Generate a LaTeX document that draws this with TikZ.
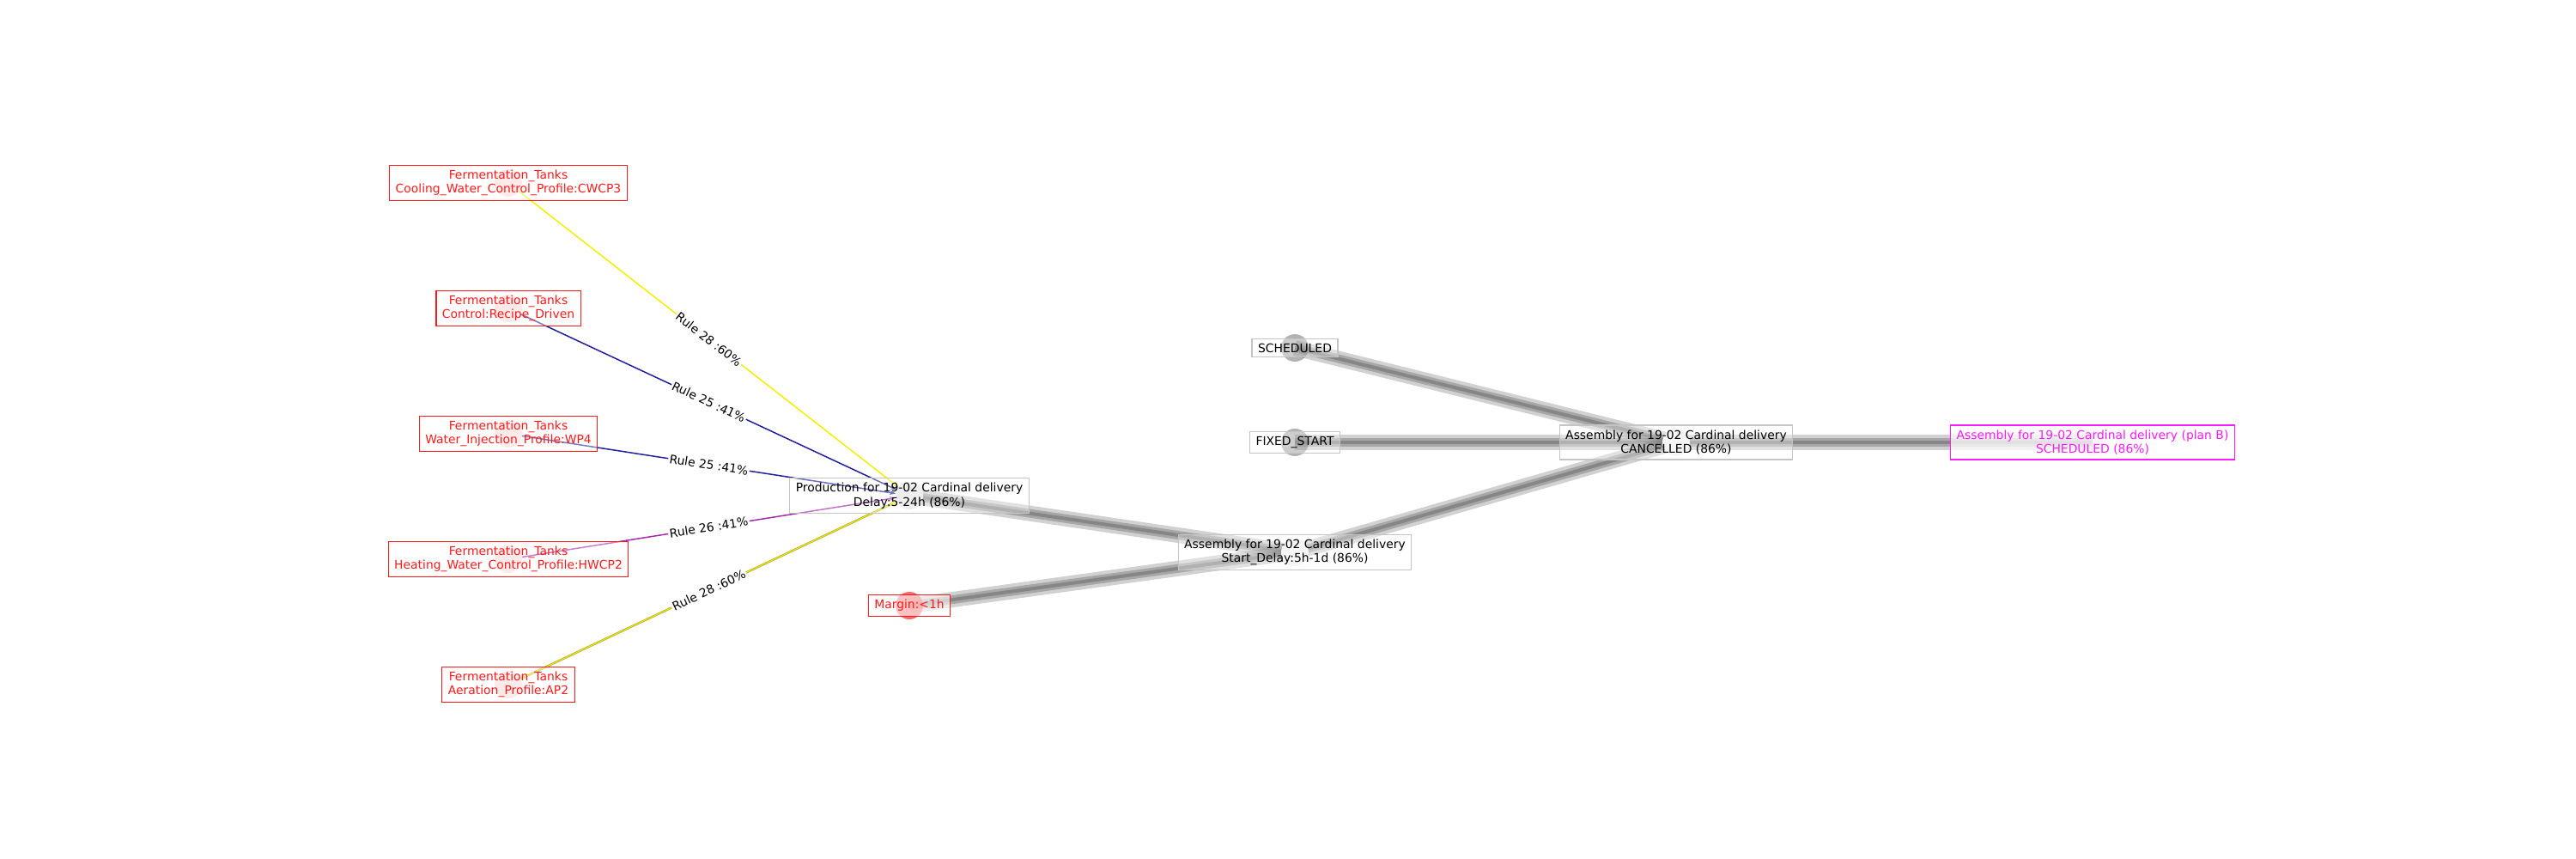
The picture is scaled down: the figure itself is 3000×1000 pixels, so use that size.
\documentclass[tikz,border=0pt]{standalone}
\usepackage{fontspec}
\setmainfont{DejaVu Sans}
\usetikzlibrary{arrows.meta, backgrounds}
\definecolor{rulyel}{HTML}{F0F000}
\definecolor{rulolv}{HTML}{B4A830}
\definecolor{rulnavy}{HTML}{20209A}
\definecolor{rulpurp}{HTML}{A02CA8}
\definecolor{boxgray}{HTML}{C4C4C4}
\definecolor{fault}{HTML}{FF1A1A}
\definecolor{planb}{HTML}{FF1AFF}

\begin{document}
\begin{tikzpicture}[
  x=1pt, y=-1pt,
  font=\fontsize{13.9}{16.5}\selectfont,
  >={Stealth[length=7pt, width=5pt]},
  nodedot/.style={circle, minimum size=32pt, inner sep=0pt, draw=none},
  fermdot/.style={nodedot, fill=fault, fill opacity=0.15},
  tagbox/.style={
    draw=#1, line width=1.2pt, fill=white, fill opacity=0.4,
    text opacity=1, align=center, inner xsep=7pt, inner ysep=5.5pt
  },
  fermbox/.style={tagbox=fault, text=fault},
  statbox/.style={tagbox=boxgray, text=black, fill opacity=0.35},
  flow/.style={
    line width=18pt, draw=black, draw opacity=0.18,
    postaction={draw=black, draw opacity=0.2, line width=10pt},
    postaction={draw=black, draw opacity=0.2, line width=4pt}
  },
  rule/.style={->, line width=1.5pt, draw=#1},
  rulelbl/.style={fill=white, inner sep=1.5pt, sloped, midway},
]

\useasboundingbox (0,0) rectangle (3000,1000);

% =============================================
% Node dots
% =============================================
\node[fermdot] (cwcp-dot)   at (592,213) {};
\node[fermdot] (recipe-dot) at (592,359) {};
\node[fermdot] (wp4-dot)    at (592,505) {};
\node[fermdot] (hwcp-dot)   at (592,651) {};
\node[fermdot] (ap2-dot)    at (592,797) {};

\node[nodedot, fill=gray!20] (prod-dot) at (1059,577) {};
\node[nodedot, fill=fault, fill opacity=0.65] (margin-dot) at (1059,705) {};
\node[nodedot, fill=gray!12] (start-dot) at (1508,643) {};
\node[nodedot, fill=black, fill opacity=0.3] (sched-dot) at (1508,405) {};
\node[nodedot, fill=black, fill opacity=0.3] (fixed-dot) at (1508,515) {};
\node[nodedot, fill=gray!12] (cancel-dot) at (1952,515) {};
\node[nodedot, fill=planb, fill opacity=0.12] (planb-dot) at (2437,515) {};

% =============================================
% Edges (under the boxes)
% =============================================
\begin{scope}[on background layer]
  % delay flow
  \draw[flow] (prod-dot.center) -- (start-dot.center);
  \draw[flow] (margin-dot.center) -- (start-dot.center);
  \draw[flow] (start-dot.center) -- (cancel-dot.center);
  \draw[flow] (sched-dot.center) -- (cancel-dot.center);
  \draw[flow] (fixed-dot.center) -- (cancel-dot.center);
  \draw[flow] (cancel-dot.center) -- (planb-dot.center);

  % rules into production
  \draw[rule=rulyel] (cwcp-dot) -- (prod-dot)
    node[rulelbl] {Rule 28 :60\%};
  \draw[rule=rulnavy] (recipe-dot) -- (prod-dot)
    node[rulelbl] {Rule 25 :41\%};
  \draw[rule=rulnavy] (wp4-dot) -- (prod-dot)
    node[rulelbl] {Rule 25 :41\%};
  \draw[rule=rulpurp] (hwcp-dot) -- (prod-dot)
    node[rulelbl] {Rule 26 :41\%};
  \draw[rule=rulolv, line width=2.4pt,
        postaction={draw=rulyel, line width=0.9pt}] (ap2-dot) -- (prod-dot)
    node[rulelbl] {Rule 28 :60\%};
\end{scope}

% =============================================
% Label boxes
% =============================================
\node[fermbox] (cwcp) at (cwcp-dot)
  {Fermentation\_Tanks\\ Cooling\_Water\_Control\_Profile:CWCP3};
\node[fermbox] (recipe) at (recipe-dot)
  {Fermentation\_Tanks\\ Control:Recipe\_Driven};
\node[fermbox] (wp4) at (wp4-dot)
  {Fermentation\_Tanks\\ Water\_Injection\_Profile:WP4};
\node[fermbox] (hwcp) at (hwcp-dot)
  {Fermentation\_Tanks\\ Heating\_Water\_Control\_Profile:HWCP2};
\node[fermbox] (ap2) at (ap2-dot)
  {Fermentation\_Tanks\\ Aeration\_Profile:AP2};

\node[statbox] (prod) at (prod-dot)
  {Production for 19-02 Cardinal delivery\\ Delay:5-24h (86\%)};
\node[fermbox, fill opacity=0.6] (margin) at (margin-dot) {Margin:<1h};
\node[statbox] (start) at (start-dot)
  {Assembly for 19-02 Cardinal delivery\\ Start\_Delay:5h-1d (86\%)};
\node[statbox] (sched) at (sched-dot) {SCHEDULED};
\node[statbox] (fixed) at (fixed-dot) {FIXED\_START};
\node[statbox] (cancel) at (cancel-dot)
  {Assembly for 19-02 Cardinal delivery\\ CANCELLED (86\%)};
\node[tagbox=planb, text=planb, fill opacity=0.75] (planb) at (planb-dot)
  {Assembly for 19-02 Cardinal delivery (plan B)\\ SCHEDULED (86\%)};

\end{tikzpicture}
\end{document}
